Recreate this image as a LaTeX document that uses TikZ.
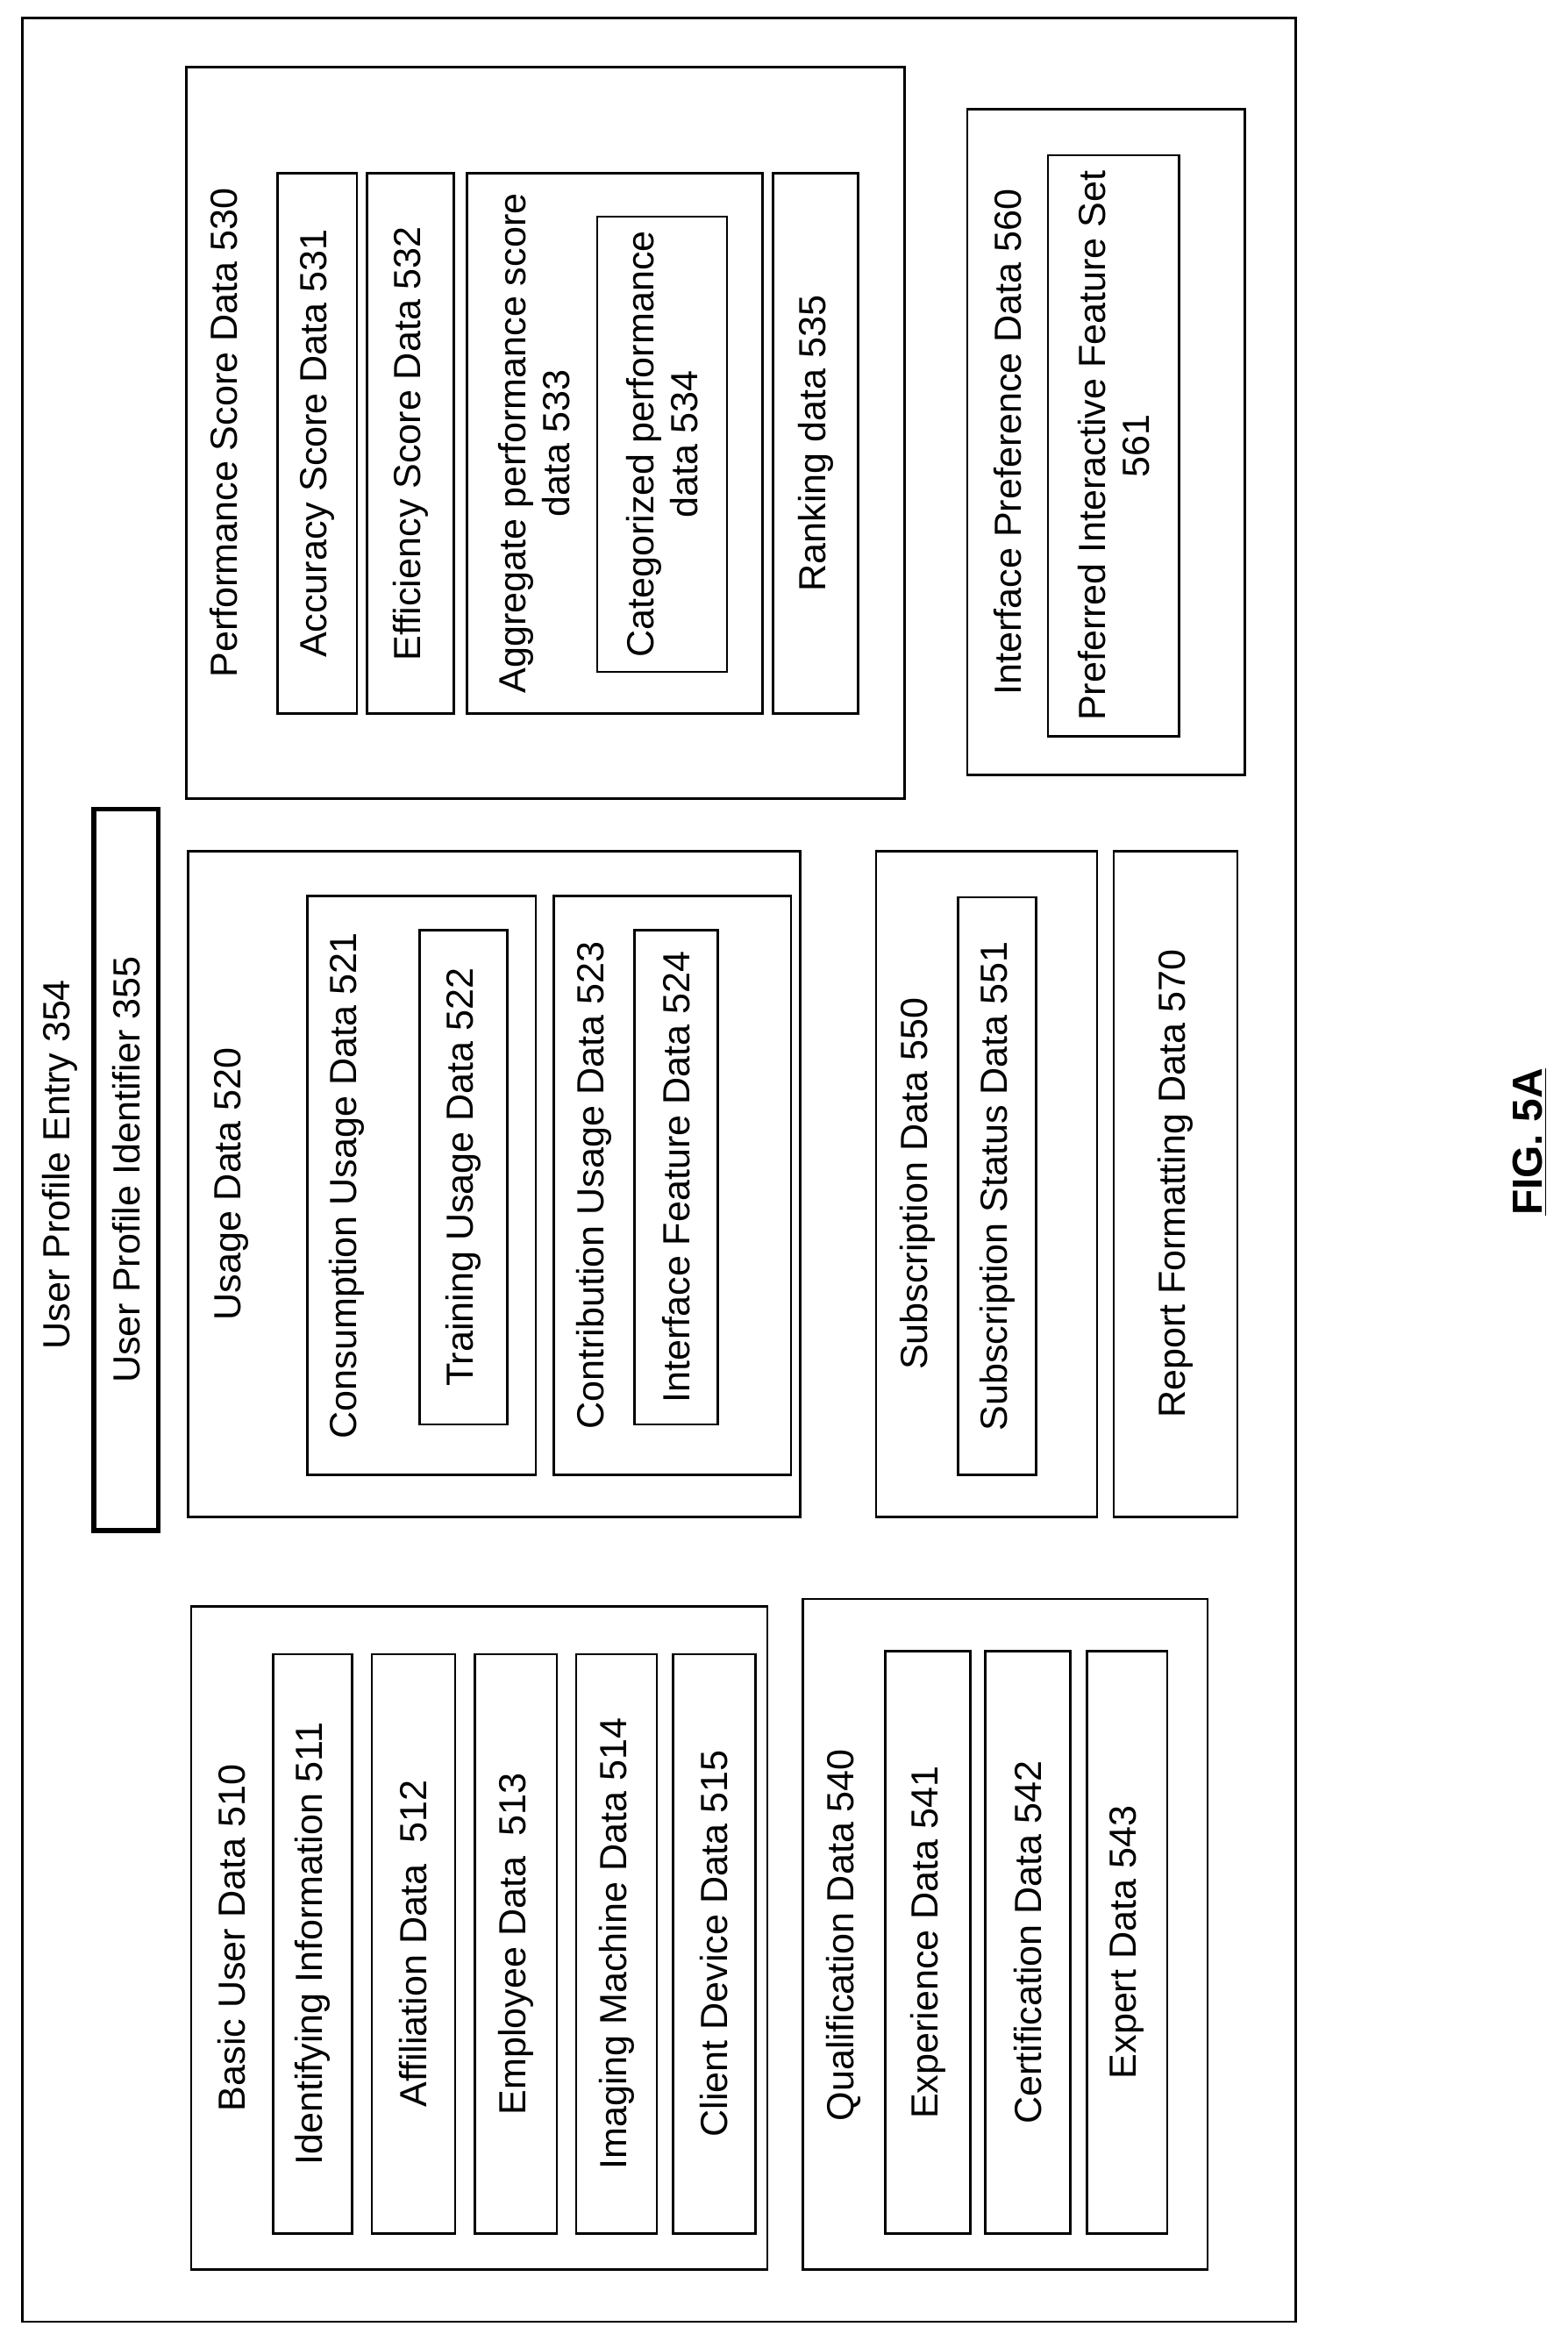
\documentclass[tikz,border=0pt]{standalone}
\usepackage{fontspec}
\setmainfont{Liberation Sans}
\usetikzlibrary{positioning}

% box from (x1,y1) to (x2,y2), text turned to read upwards
\newcommand\databox[6][]{%
  \node[box, #1, minimum width={(#4-#2)*0.025cm}, minimum height={(#5-#3)*0.025cm}]
    (#6) at ({(#2+#4)/2},{(#3+#5)/2}) {};}

\begin{document}
\begin{tikzpicture}[
    x=0.025cm, y=-0.025cm,
    every node/.style={font=\fontsize{18}{21}\selectfont},
    box/.style={rectangle, draw, line width=1.1pt, inner sep=0pt},
    lbl/.style={rotate=90, align=center, inner sep=0pt}
]
    \useasboundingbox (0,0) rectangle (1050,1568);

    % outer entry
    \databox{15}{12}{868}{1555}{entry}
    \node[lbl] (entrylbl) at (40,780) {User Profile Entry 354};
    \databox[line width=2.4pt]{63}{542}{106}{1025}{ident}
    \node[lbl] at (ident) {User Profile Identifier 355};

    % performance score
    \databox{125}{45}{606}{535}{perf}
    \node[lbl] (perflbl) at (150,290) {Performance Score Data 530};
    \databox{186}{116}{239}{478}{acc}
    \node[lbl] at (acc) {Accuracy Score Data 531};
    \databox{246}{116}{304}{478}{eff}
    \node[lbl] at (eff) {Efficiency Score Data 532};
    \databox{313}{116}{511}{478}{aggr}
    \node[lbl] (aggrlbl) at (358,297) {Aggregate performance score\\data 533};
    \databox{400}{145}{487}{450}{categ}
    \node[lbl] at (categ) {Categorized performance\\data 534};
    \databox{518}{116}{575}{478}{rank}
    \node[lbl] at (rank) {Ranking data 535};

    % interface preference
    \databox{648}{73}{834}{519}{ipref}
    \node[lbl] (ipreflbl) at (675,296) {Interface Preference Data 560};
    \databox{702}{104}{790}{493}{pfeat}
    \node[lbl] at (pfeat) {Preferred Interactive Feature Set\\561};

    % usage
    \databox{126}{570}{536}{1016}{usage}
    \node[lbl] (usagelbl) at (155,793) {Usage Data 520};
    \databox{206}{600}{359}{988}{consum}
    \node[lbl] (consumlbl) at (232,794) {Consumption Usage Data 521};
    \databox{281}{623}{340}{954}{train}
    \node[lbl] at (train) {Training Usage Data 522};
    \databox{371}{600}{530}{988}{contrib}
    \node[lbl] (contriblbl) at (398,794) {Contribution Usage Data 523};
    \databox{425}{623}{481}{954}{ifeat}
    \node[lbl] at (ifeat) {Interface Feature Data 524};

    % subscription
    \databox{587}{570}{735}{1016}{subscr}
    \node[lbl] (subscrlbl) at (615,793) {Subscription Data 550};
    \databox{642}{601}{694}{988}{sstat}
    \node[lbl] at (sstat) {Subscription Status Data 551};
    \databox{746}{570}{829}{1016}{report}
    \node[lbl] at (report) {Report Formatting Data 570};

    % basic user data
    \databox{128}{1076}{514}{1520}{basic}
    \node[lbl] (basiclbl) at (155,1298) {Basic User Data 510};
    \databox{183}{1108}{236}{1496}{identinfo}
    \node[lbl] at (identinfo) {Identifying Information 511};
    \databox{249}{1108}{305}{1496}{affil}
    \node[lbl] at (affil) {Affiliation Data\ \ 512};
    \databox{318}{1108}{373}{1496}{employ}
    \node[lbl] at (employ) {Employee Data\ \ 513};
    \databox{386}{1108}{440}{1496}{imaging}
    \node[lbl] at (imaging) {Imaging Machine Data 514};
    \databox{451}{1108}{506}{1496}{client}
    \node[lbl] at (client) {Client Device Data 515};

    % qualification
    \databox{538}{1071}{809}{1520}{qualif}
    \node[lbl] (qualiflbl) at (565,1296) {Qualification Data 540};
    \databox{593}{1106}{650}{1496}{exper}
    \node[lbl] at (exper) {Experience Data 541};
    \databox{660}{1106}{717}{1496}{certif}
    \node[lbl] at (certif) {Certification Data 542};
    \databox{728}{1106}{782}{1496}{expert}
    \node[lbl] at (expert) {Expert Data 543};

    \node[lbl, font=\fontsize{20}{24}\selectfont\bfseries] (fig) at (1025,765) {\underline{FIG. 5A}};
\end{tikzpicture}
\end{document}
